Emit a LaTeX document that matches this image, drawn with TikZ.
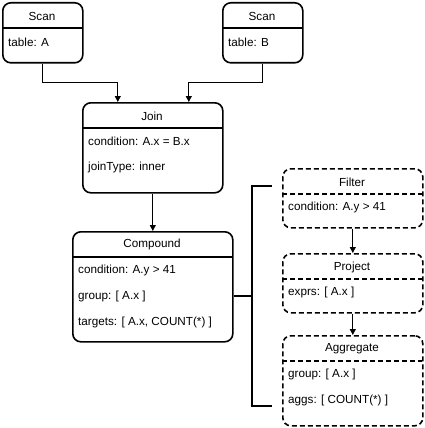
\documentclass[tikz,border=0pt]{standalone}
\usepackage{fontspec}
\setmainfont{Liberation Sans}
\usetikzlibrary{arrows.meta,calc}
\begin{document}
\begin{tikzpicture}[x=1pt,y=-1pt,
  box/.style={draw, line width=1.6pt, rounded corners=8pt, inner sep=0pt, anchor=north west},
  dbox/.style={box, dash pattern=on 5pt off 3pt},
  sepline/.style={line width=1.6pt},
  dsepline/.style={sepline, dash pattern=on 5pt off 3pt},
  title/.style={font=\fontsize{11.7}{14}\selectfont, inner sep=0pt, anchor=center},
  field/.style={font=\fontsize{11.7}{14}\selectfont, inner sep=0pt, anchor=west},
  arr/.style={line width=0.8pt, -{Triangle[length=6pt,width=6pt]}},
  brace/.style={line width=1.6pt}]
\useasboundingbox (0,0) rectangle (425,428);

% Scan A
\node[box, minimum width=80pt, minimum height=60pt] (scanA) at (2,2) {};
\draw[sepline] (2,28) -- (82,28);
\node[title] (scanAt) at (42,16) {Scan};
\node[field] (scanAf) at (8,42) {table: A};

% Scan B
\node[box, minimum width=80pt, minimum height=60pt] (scanB) at (222,2) {};
\draw[sepline] (222,28) -- (302,28);
\node[title] (scanBt) at (262,16) {Scan};
\node[field] (scanBf) at (228,42) {table: B};

% Join
\node[box, minimum width=140pt, minimum height=90pt] (join) at (82,102) {};
\draw[sepline] (82,128) -- (222,128);
\node[title] (joint) at (152,116) {Join};
\node[field] (joinf1) at (88,141) {condition: A.x = B.x};
\node[field] (joinf2) at (88,167) {joinType: inner};

% Compound
\node[box, minimum width=160pt, minimum height=110pt] (comp) at (72,231) {};
\draw[sepline] (72,257) -- (232,257);
\node[title] (compt) at (152,244) {Compound};
\node[field] (compf1) at (78,270) {condition: A.y > 41};
\node[field] (compf2) at (78,296) {group: [ A.x ]};
\node[field] (compf3) at (78,322) {targets: [ A.x, COUNT(*) ]};

% Filter
\node[dbox, minimum width=140pt, minimum height=59pt] (filter) at (282,168) {};
\draw[dsepline] (282,194) -- (422,194);
\node[title] (filtert) at (352,182) {Filter};
\node[field] (filterf) at (288,207) {condition: A.y > 41};

% Project
\node[dbox, minimum width=140pt, minimum height=59pt] (proj) at (282,253) {};
\draw[dsepline] (282,279) -- (422,279);
\node[title] (projt) at (352,267) {Project};
\node[field] (projf) at (288,292) {exprs: [ A.x ]};

% Aggregate
\node[dbox, minimum width=140pt, minimum height=90pt] (agg) at (282,335) {};
\draw[dsepline] (282,361) -- (422,361);
\node[title] (aggt) at (352,349) {Aggregate};
\node[field] (aggf1) at (288,374) {group: [ A.x ]};
\node[field] (aggf2) at (288,400) {aggs: [ COUNT(*) ]};

% connectors
\draw[arr] (scanA.south) -- ++(0,19) -| ($(join.north)+(-35,0)$);
\draw[arr] (scanB.south) -- ++(0,19) -| ($(join.north)+(36,0)$);
\draw[arr] (join.south) -- (comp.north);
\draw[arr] (filter.south) -- (proj.north);
\draw[arr] (proj.south) -- (agg.north);

% bracket
\coordinate (bmid) at (252,296);
\coordinate (btop) at (272,186);
\coordinate (bbot) at (272,406);
\draw[brace] (comp.east |- bmid) -- (bmid);
\draw[brace] (btop) -- (bmid |- btop) -- (bmid |- bbot) -- (bbot);
\end{tikzpicture}
\end{document}
